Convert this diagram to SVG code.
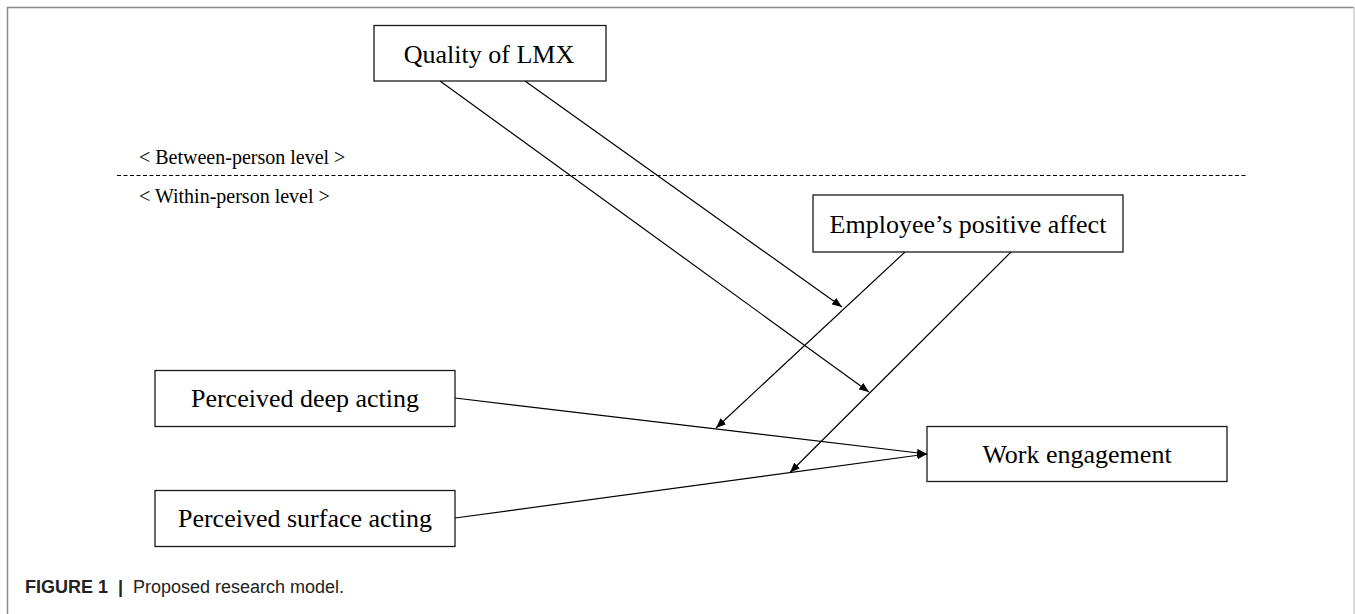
<svg xmlns="http://www.w3.org/2000/svg" width="1355" height="614" viewBox="0 0 1355 614">
<defs>
<marker id="ah" markerUnits="userSpaceOnUse" markerWidth="10" markerHeight="8" refX="10" refY="4" orient="auto">
<path d="M0,0 L10,4 L0,8 z" fill="#000"/>
</marker>
<style>
.box{fill:#fff;stroke:#1a1a1a;stroke-width:1.3}
.lbl{font-family:"Liberation Serif","Times New Roman",serif;font-size:26px;fill:#000;text-anchor:middle}
.lvl{font-family:"Liberation Serif","Times New Roman",serif;font-size:20px;fill:#000}
.edge{stroke:#000;stroke-width:1.2;fill:none;marker-end:url(#ah)}
.cap{font-family:"Liberation Sans",Arial,sans-serif;font-size:18px;fill:#222}
</style>
</defs>
<rect width="1355" height="614" fill="#fff"/>
<g id="frame" stroke="#8a8a8a" stroke-width="1.5" fill="none">
<path d="M7.5,614 L7.5,7.5 L1354,7.5"/>
<path d="M1354,7.5 L1354,614" stroke="#d0d0d0"/>
</g>
<g id="levels">
<text class="lvl" x="139" y="164">&lt; Between-person level &gt;</text>
<line x1="117" y1="175.5" x2="1247" y2="175.5" stroke="#000" stroke-width="1.2" stroke-dasharray="4 2.5"/>
<text class="lvl" x="139" y="203">&lt; Within-person level &gt;</text>
</g>
<g id="connectors">
<line class="edge" x1="525" y1="81" x2="842" y2="307"/>
<line class="edge" x1="440" y1="81" x2="869" y2="392"/>
<line class="edge" x1="905" y1="252" x2="716" y2="428"/>
<line class="edge" x1="1011" y1="252" x2="790" y2="472.5"/>
<line class="edge" x1="455" y1="398" x2="927" y2="454"/>
<line class="edge" x1="455" y1="518" x2="927" y2="454"/>
</g>
<g id="node-lmx">
<rect class="box" x="374" y="25.5" width="232" height="55.5"/>
<text class="lbl" x="489" y="63">Quality of LMX</text>
</g>
<g id="node-affect">
<rect class="box" x="813" y="195" width="310" height="57"/>
<text class="lbl" x="968" y="233">Employee’s positive affect</text>
</g>
<g id="node-deep">
<rect class="box" x="155" y="370.5" width="300" height="56"/>
<text class="lbl" x="305" y="407">Perceived deep acting</text>
</g>
<g id="node-surface">
<rect class="box" x="155" y="490.5" width="300" height="56"/>
<text class="lbl" x="305" y="527">Perceived surface acting</text>
</g>
<g id="node-work">
<rect class="box" x="927" y="426.5" width="300" height="55"/>
<text class="lbl" x="1077" y="463">Work engagement</text>
</g>
<g id="caption">
<text class="cap" x="25" y="593" font-weight="bold" fill="#000">FIGURE 1</text>
<text class="cap" x="118" y="593" font-weight="bold">|</text>
<text class="cap" x="133" y="593">Proposed research model.</text>
</g>
</svg>
